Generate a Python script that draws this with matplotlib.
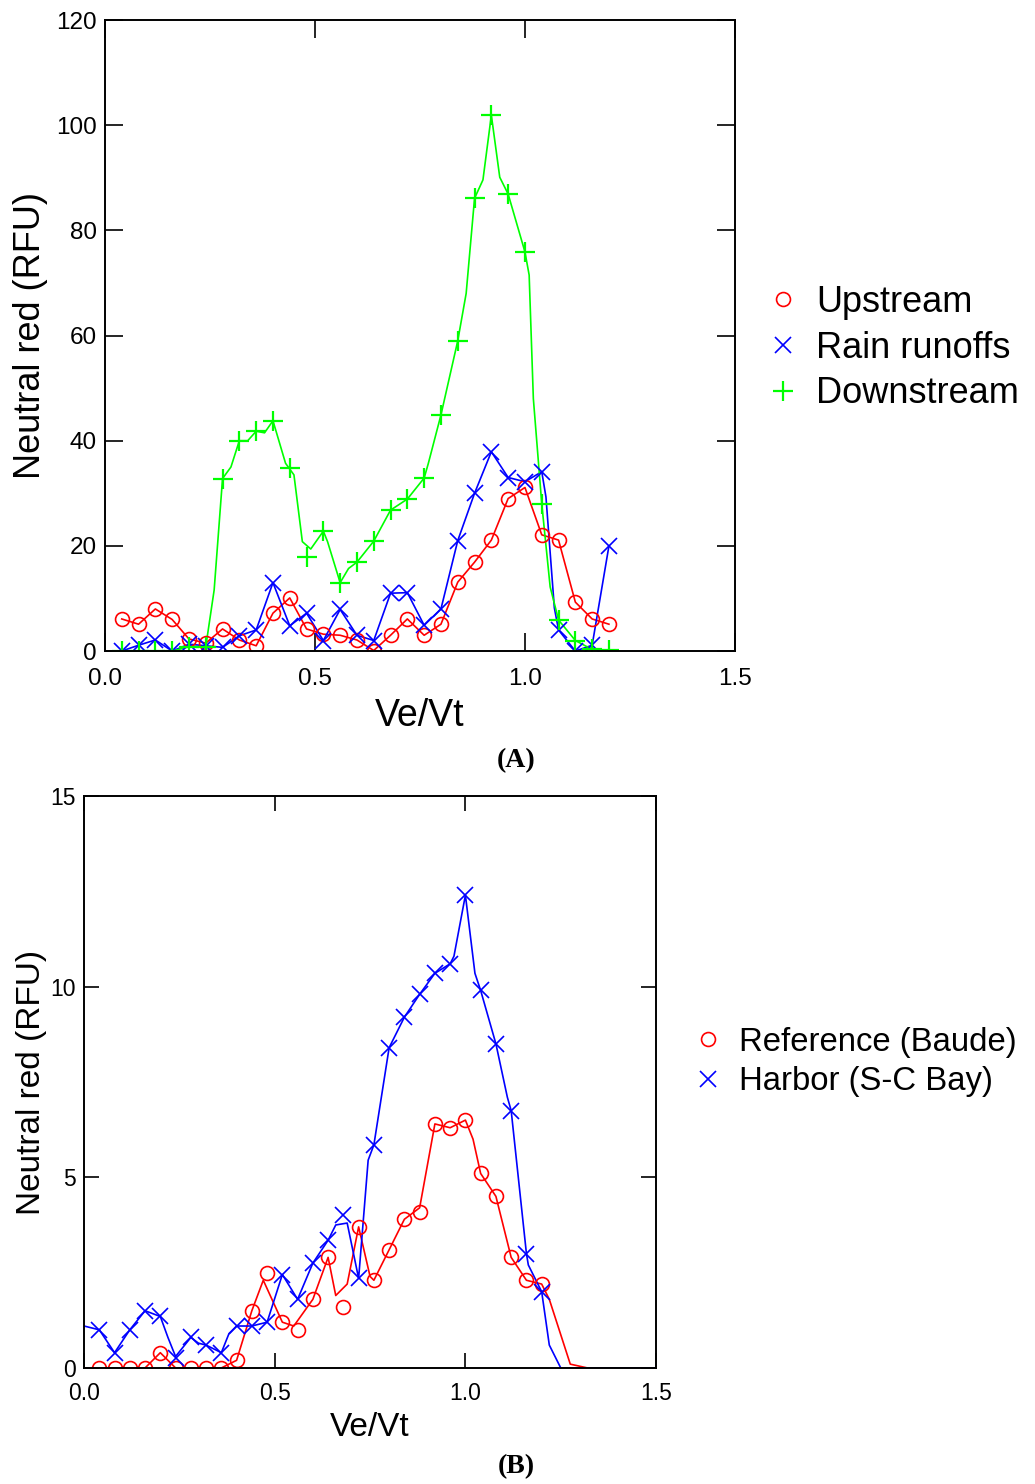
import matplotlib
matplotlib.use('Agg')
import matplotlib.pyplot as plt

plt.rcParams['font.family'] = ['Liberation Sans', 'DejaVu Sans']

# ---- panel A data (markers every 0.04 Ve/Vt) ----
a_x = [0.04, 0.08, 0.12, 0.16, 0.20, 0.24, 0.28, 0.32, 0.36, 0.40,
       0.44, 0.48, 0.52, 0.56, 0.60, 0.64, 0.68, 0.72, 0.76, 0.80,
       0.84, 0.88, 0.92, 0.96, 1.00, 1.04, 1.08, 1.12, 1.16, 1.20]
upstream = [6.1, 5.1, 8.0, 6.0, 2.3, 1.5, 4.2, 2.1, 1.0, 7.2,
            10.1, 4.2, 3.2, 3.0, 2.1, 0.1, 3.0, 6.1, 3.0, 5.1,
            13.1, 16.9, 21.1, 29.0, 31.1, 22.1, 21.1, 9.3, 6.1, 5.1]
rain = [0.0, 1.1, 2.1, 0.0, 1.3, 1.0, 0.7, 2.9, 4.0, 13.0,
        4.8, 7.2, 2.0, 7.9, 3.0, 2.0, 11.0, 11.1, 4.9, 8.0,
        21.0, 30.0, 37.9, 33.0, 32.2, 34.1, 4.0, 0.0, 1.1, 20.0]
downstream = [0.0, 0.0, 0.0, 0.0, 0.8, 0.8, 32.8, 40.0, 41.8, 43.8,
              34.9, 17.9, 22.8, 13.0, 16.9, 20.9, 26.8, 28.9, 32.9, 44.9,
              59.0, 86.1, 101.9, 86.9, 75.9, 28.0, 5.9, 2.0, 0.3, 0.2]

# connecting curves (they have extra vertices)
rain_line_x = [0.04, 0.08, 0.12, 0.16, 0.20, 0.24, 0.28, 0.32, 0.36, 0.40,
               0.44, 0.48, 0.52, 0.56, 0.60, 0.64, 0.68, 0.72, 0.76, 0.80,
               0.84, 0.88, 0.92, 0.96, 1.00, 1.04, 1.05, 1.07, 1.08, 1.12,
               1.16, 1.20]
rain_line_y = [0.0, 1.1, 2.1, 0.0, 1.3, 1.0, 0.7, 2.9, 4.0, 13.0,
               4.8, 7.2, 2.0, 7.9, 3.0, 2.0, 11.0, 11.1, 4.9, 8.0,
               21.0, 30.0, 37.9, 33.0, 32.2, 34.1, 29.3, 8.2, 4.0, 0.0,
               1.1, 20.0]
down_line_x = [0.04, 0.08, 0.12, 0.16, 0.20, 0.24, 0.26, 0.28, 0.30, 0.32,
               0.34, 0.36, 0.38, 0.40, 0.43, 0.45, 0.47, 0.49, 0.52, 0.53,
               0.56, 0.58, 0.60, 0.64, 0.68, 0.72, 0.76, 0.77, 0.80, 0.84,
               0.86, 0.88, 0.90, 0.92, 0.94, 0.96, 1.00, 1.01, 1.02, 1.03,
               1.04, 1.06, 1.08, 1.12, 1.16, 1.20]
down_line_y = [0.0, 0.0, 0.0, 0.0, 0.8, 0.8, 11.6, 32.8, 35.0, 40.0,
               40.0, 41.8, 41.5, 43.8, 35.7, 33.5, 20.8, 19.4, 22.8, 20.8,
               13.0, 15.7, 16.9, 20.9, 26.8, 28.9, 32.9, 35.7, 44.9, 59.0,
               68.0, 86.1, 89.6, 101.9, 90.1, 86.9, 75.9, 71.5, 48.0, 38.0,
               28.0, 12.2, 5.9, 2.0, 0.3, 0.2]

# ---- panel B data ----
b_x = [0.04, 0.08, 0.12, 0.16, 0.20, 0.24, 0.28, 0.32, 0.36, 0.40,
       0.44, 0.48, 0.52, 0.56, 0.60, 0.64, 0.68, 0.72, 0.76, 0.80,
       0.84, 0.88, 0.92, 0.96, 1.00, 1.04, 1.08, 1.12, 1.16, 1.20]
baude = [0.0, 0.0, 0.0, 0.0, 0.4, 0.0, 0.0, 0.0, 0.0, 0.2,
         1.5, 2.5, 1.2, 1.0, 1.8, 2.9, 1.6, 3.7, 2.3, 3.1,
         3.9, 4.1, 6.4, 6.3, 6.5, 5.1, 4.5, 2.9, 2.3, 2.2]
harbor = [1.0, 0.4, 1.0, 1.5, 1.35, 0.25, 0.8, 0.6, 0.4, 1.1,
          1.1, 1.2, 2.45, 1.8, 2.75, 3.35, 4.0, 2.35, 5.85, 8.4,
          9.2, 9.8, 10.35, 10.6, 12.4, 9.9, 8.5, 6.75, 3.0, 2.0]

baude_line_x = [0.0, 0.04, 0.08, 0.12, 0.16, 0.20, 0.24, 0.28, 0.32, 0.36,
                0.40, 0.44, 0.47, 0.52, 0.55, 0.60, 0.64, 0.66, 0.69, 0.72,
                0.75, 0.76, 0.80, 0.84, 0.88, 0.92, 0.96, 1.00, 1.02, 1.04,
                1.08, 1.12, 1.16, 1.20, 1.22, 1.275, 1.32, 1.5]
baude_line_y = [0.0, 0.0, 0.0, 0.0, 0.0, 0.4, 0.0, 0.0, 0.0, 0.0,
                0.2, 1.5, 2.3, 1.2, 1.1, 1.8, 2.9, 1.9, 2.2, 3.7,
                2.4, 2.3, 3.1, 3.9, 4.2, 6.4, 6.3, 6.5, 6.0, 5.1,
                4.5, 2.9, 2.3, 2.2, 1.8, 0.1, 0.0, 0.0]
harbor_line_x = [0.0, 0.04, 0.08, 0.12, 0.16, 0.20, 0.22, 0.24, 0.28, 0.30,
                 0.32, 0.36, 0.38, 0.40, 0.44, 0.48, 0.52, 0.56, 0.60, 0.64,
                 0.66, 0.69, 0.72, 0.745, 0.76, 0.80, 0.84, 0.88, 0.92, 0.96,
                 0.97, 1.00, 1.025, 1.04, 1.08, 1.11, 1.12, 1.16, 1.165, 1.20,
                 1.22, 1.25, 1.5]
harbor_line_y = [1.1, 1.0, 0.4, 1.0, 1.5, 1.35, 0.8, 0.3, 0.8, 0.65,
                 0.6, 0.4, 0.9, 1.1, 1.1, 1.2, 2.45, 1.8, 2.75, 3.35,
                 3.75, 3.8, 2.35, 5.45, 5.85, 8.4, 9.2, 9.8, 10.35, 10.6,
                 10.8, 12.4, 10.35, 9.9, 8.5, 7.1, 6.75, 3.0, 2.7, 2.0,
                 0.6, 0.0, 0.0]

RED = '#ff0000'
BLUE = '#0000ff'
GREEN = '#00ff00'


def style_axes(ax, ymax, ystep, ticklen, fs, xpad):
	ax.set_xlim(0, 1.5)
	ax.set_ylim(0, ymax)
	ax.set_xticks([0.0, 0.5, 1.0, 1.5])
	ax.set_xticklabels(['0.0', '0.5', '1.0', '1.5'])
	ax.set_yticks(list(range(0, ymax + 1, ystep)))
	ax.tick_params(direction='in', length=ticklen, width=1.2,
	               top=True, right=True, labelsize=fs)
	ax.tick_params(axis='y', pad=6)
	ax.tick_params(axis='x', pad=xpad)
	for s in ax.spines.values():
		s.set_linewidth(1.4)


fig = plt.figure(figsize=(10.35, 14.84), dpi=100)

# ---- panel A ----
axA = fig.add_axes([0.1014, 0.5613, 0.6087, 0.4252])
axA.plot(a_x, upstream, color=RED, lw=1.2)
axA.plot(rain_line_x, rain_line_y, color=BLUE, lw=1.2)
axA.plot(down_line_x, down_line_y, color=GREEN, lw=1.2)
axA.plot(a_x, upstream, ls='none', marker='o', ms=10, mfc='none',
         mec=RED, mew=1.2, label='Upstream')
axA.plot(a_x, rain, ls='none', marker='x', ms=12, mec=BLUE, mew=1.2,
         label='Rain runoffs')
axA.plot(a_x, downstream, ls='none', marker='+', ms=14, mec=GREEN, mew=1.6,
         label='Downstream')
style_axes(axA, 120, 20, 13, 17.5, 12)
axA.set_xlabel('Ve/Vt', fontsize=27, labelpad=6)
axA.set_ylabel('Neutral red (RFU)', fontsize=26, labelpad=6)
axA.legend(loc='center left', bbox_to_anchor=(0.99, 0.48), frameon=False,
           fontsize=26, handlelength=1.0, handletextpad=0.42,
           labelspacing=0.3, borderaxespad=0.6)

# ---- panel B ----
axB = fig.add_axes([0.0812, 0.0782, 0.5527, 0.3854])
axB.plot(baude_line_x, baude_line_y, color=RED, lw=1.2)
axB.plot(harbor_line_x, harbor_line_y, color=BLUE, lw=1.2)
axB.plot(b_x, baude, ls='none', marker='o', ms=10, mfc='none',
         mec=RED, mew=1.2, label='Reference (Baude)')
axB.plot(b_x, harbor, ls='none', marker='x', ms=12, mec=BLUE, mew=1.2,
         label='Harbor (S-C Bay)')
style_axes(axB, 15, 5, 11, 16.5, 10)
axB.set_xlabel('Ve/Vt', fontsize=24, labelpad=5)
axB.set_ylabel('Neutral red (RFU)', fontsize=24, labelpad=2)
axB.legend(loc='center left', bbox_to_anchor=(1.005, 0.535), frameon=False,
           fontsize=23.7, handlelength=1.0, handletextpad=0.42,
           labelspacing=0.27, borderaxespad=0.6)

fig.text(0.4986, 1 - 761 / 1484, '(A)', ha='center', va='center',
         fontsize=20, fontweight='bold', family='Liberation Serif')
fig.text(0.4986, 1 - 1467 / 1484, '(B)', ha='center', va='center',
         fontsize=20, fontweight='bold', family='Liberation Serif')

fig.savefig('out.png', dpi=100)
